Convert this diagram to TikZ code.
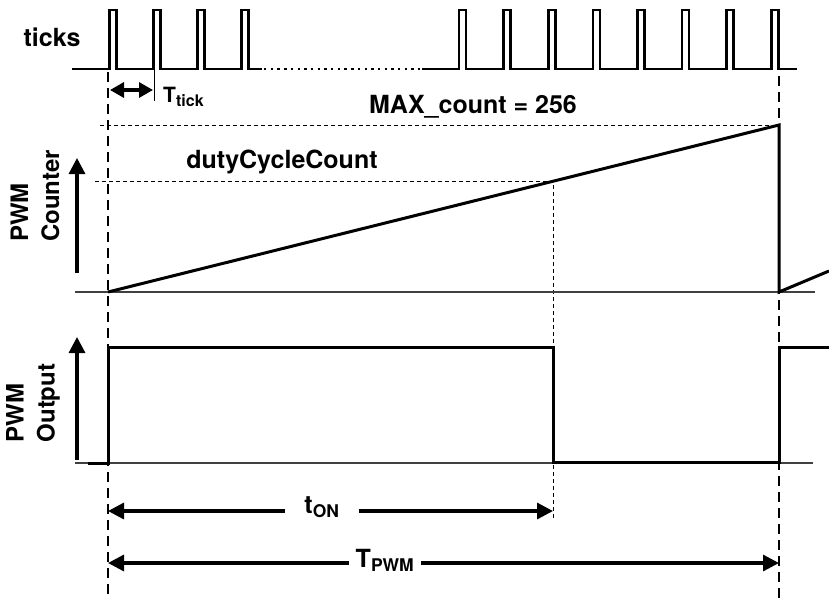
\documentclass[tikz,border=0pt]{standalone}
\usepackage{fontspec}
\setmainfont{TeX Gyre Heros}
\usetikzlibrary{arrows.meta}

\begin{document}
\begin{tikzpicture}[
    x=1pt, y=-1pt,
    >={Triangle[length=16pt, width=16pt]},
    lbl/.style      = {font=\fontsize{25}{30}\selectfont\bfseries, inner sep=0pt},
    sidelbl/.style  = {font=\fontsize{24}{31}\selectfont\bfseries, inner sep=0pt,
                       rotate=90, align=left},
    wave/.style     = {line width=3pt, line join=miter},
    tickwave/.style = {line width=2.6pt, line join=miter},
    baseln/.style   = {line width=1.1pt, black!75},
    guide/.style    = {line width=1pt, dash pattern=on 4pt off 3pt},
    period/.style   = {line width=2.3pt, dash pattern=on 10pt off 6pt},
    dimline/.style  = {<->, line width=3.2pt},
    upaxis/.style   = {->, line width=3.2pt},
  ]
    \useasboundingbox (0,0) rectangle (829,598);

    % --- labels ---
    \node[lbl, anchor=base] (ticks) at (52,46)   {ticks};
    \node[lbl, anchor=base] (maxc)  at (473,113) {MAX\_count = 256};
    \node[lbl, anchor=base] (duty)  at (282,168) {dutyCycleCount};
    \node[sidelbl] (cntr) at (35,196) {PWM\\Counter};
    \node[sidelbl] (outp) at (33,403) {PWM\\Output};
    \node[anchor=base west, inner sep=0pt, font=\fontsize{21}{25}\selectfont\bfseries]
         (ttick) at (163,102) {T\textsubscript{\fontsize{16}{16}\selectfont tick}};

    % --- period markers and guides ---
    \draw[period] (108,72) -- (108,598);
    \draw[period] (779,76) -- (779,598);
    \draw[guide]  (100,125) -- (779,125);
    \draw[guide]  (95,181) -- (553,181) -- (553,518);
    \draw[line width=1pt] (154,70) -- (154,101);
    \draw[baseln] (75,292) -- (815,292);
    \draw[baseln] (75,463) -- (813,463);

    % --- tick train ---
    \draw[tickwave] (72,69)
        foreach \x in {109.5,153.5,197.5,241.5} {
            -- (\x,69) -- (\x,10) -- ({\x+7},10) -- ({\x+7},69) }
        -- (262,69);
    \draw[line width=2.6pt, dash pattern=on 2.4pt off 4.3pt] (264,69) -- (420,69);
    \draw[tickwave] (422,69)
        foreach \x in {459,503.6,548.2,592.8,637.4,682,726.6,771.2} {
            -- (\x,69) -- (\x,10) -- ({\x+7},10) -- ({\x+7},69) }
        -- (797,69);

    % --- counter ramp and output ---
    \draw[wave] (108,292) -- (779,125) -- (779,292) -- (829,271);
    \draw[wave] (88,463) -- (108,463) -- (108,347) -- (553,347)
        -- (553,462) -- (779,462) -- (779,347) -- (829,347);

    % --- arrows ---
    \draw[upaxis] (77,273) -- (77,158);
    \draw[upaxis] (77,460) -- (77,337);
    \draw[<->, line width=3.2pt, >={Triangle[length=14pt, width=15pt]}] (110,90) -- (153,90);
    \draw[dimline] (108,511) -- (553,511);
    \draw[dimline] (108,563) -- (779,563);
    \node[lbl, anchor=base, fill=white, inner xsep=19pt] (ton)  at (322,513) {t\textsubscript{ON}};
    \node[lbl, anchor=base, fill=white, inner xsep=7pt]  (tpwm) at (385,567) {T\textsubscript{PWM}};
\end{tikzpicture}
\end{document}
